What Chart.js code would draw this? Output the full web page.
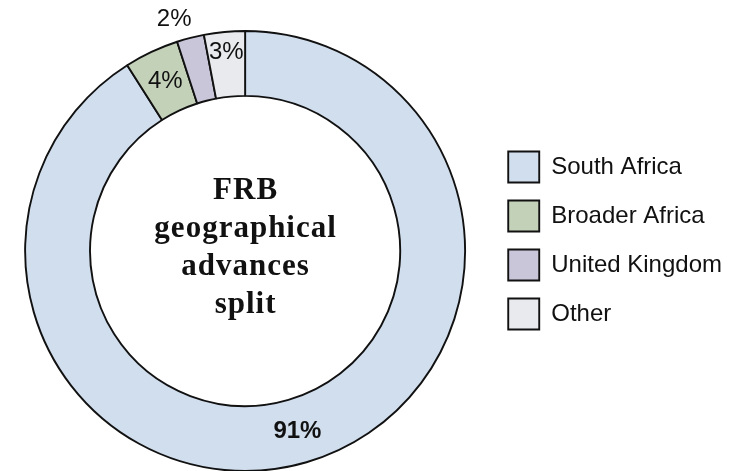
<!DOCTYPE html>
<html>
<head>
<meta charset="utf-8">
<script src="https://cdn.jsdelivr.net/npm/chart.js@4.4.1/dist/chart.umd.min.js"></script>
<style>
  html, body { margin: 0; padding: 0; background: #ffffff; }
  #wrap { width: 751px; height: 471px; position: relative; }
</style>
</head>
<body>
<div id="wrap"><canvas id="c" width="751" height="471"></canvas></div>
<script>
// ---- data ----
const categories = ['South Africa', 'Broader Africa', 'United Kingdom', 'Other'];
const shares = [91, 4, 2, 3];
const centerTitle = ['FRB', 'geographical', 'advances', 'split'];

// ---- style ----
const sliceColors = ['#d1deee', '#c4d1b9', '#c9c6d9', '#e9eaee'];
const labelShift = [0, 0, 55, 12];          // radial shift of the % labels (px)
const labelTurn = [0, 0, -2.6, 0];          // angular shift of the % labels (deg)
const labelWeight = ['bold', 'normal', 'normal', 'normal'];

const sliceLabels = {
  id: 'sliceLabels',
  afterDatasetsDraw(chart) {
    const ctx = chart.ctx;
    const meta = chart.getDatasetMeta(0);
    ctx.save();
    ctx.fillStyle = '#111111';
    ctx.textAlign = 'center';
    ctx.textBaseline = 'middle';
    meta.data.forEach((arc, i) => {
      const p = arc.getProps(['x', 'y', 'startAngle', 'endAngle', 'innerRadius', 'outerRadius'], true);
      const mid = (p.startAngle + p.endAngle) / 2 + labelTurn[i] * Math.PI / 180;
      const r = (p.innerRadius + p.outerRadius) / 2 + labelShift[i];
      ctx.font = labelWeight[i] + ' 24px "Liberation Sans", Arial, sans-serif';
      ctx.fillText(chart.data.datasets[0].data[i] + '%', p.x + Math.cos(mid) * r, p.y + Math.sin(mid) * r);
    });
    // centre title
    const a0 = meta.data[0];
    ctx.font = 'bold 31px "Liberation Serif", "Times New Roman", serif';
    try { ctx.letterSpacing = '1px'; } catch (e) {}
    ctx.textBaseline = 'alphabetic';
    const lh = 38;
    centerTitle.forEach((t, i) => {
      ctx.fillText(t, a0.x + 0.5, a0.y + (i - (centerTitle.length - 1) / 2) * lh + 5);
    });
    ctx.restore();
  }
};

new Chart(document.getElementById('c'), {
  type: 'doughnut',
  data: {
    labels: categories,
    datasets: [{
      data: shares,
      backgroundColor: sliceColors,
      borderColor: '#111111',
      borderWidth: 1.9,
      hoverOffset: 0
    }]
  },
  options: {
    responsive: false,
    animation: false,
    radius: 220,
    cutout: '70.5%',
    rotation: 0,
    layout: { padding: { left: -4, right: 19, top: 10, bottom: 0 } },
    plugins: {
      tooltip: { enabled: false },
      title: { display: true, text: '', padding: 0, font: { size: 21, lineHeight: 1 } },
      legend: {
        position: 'right',
        labels: {
          boxWidth: 31,
          boxHeight: 31,
          padding: 18,
          color: '#111111',
          font: { size: 24, family: '"Liberation Sans", Arial, sans-serif' }
        }
      }
    }
  },
  plugins: [sliceLabels]
});
</script>
</body>
</html>
